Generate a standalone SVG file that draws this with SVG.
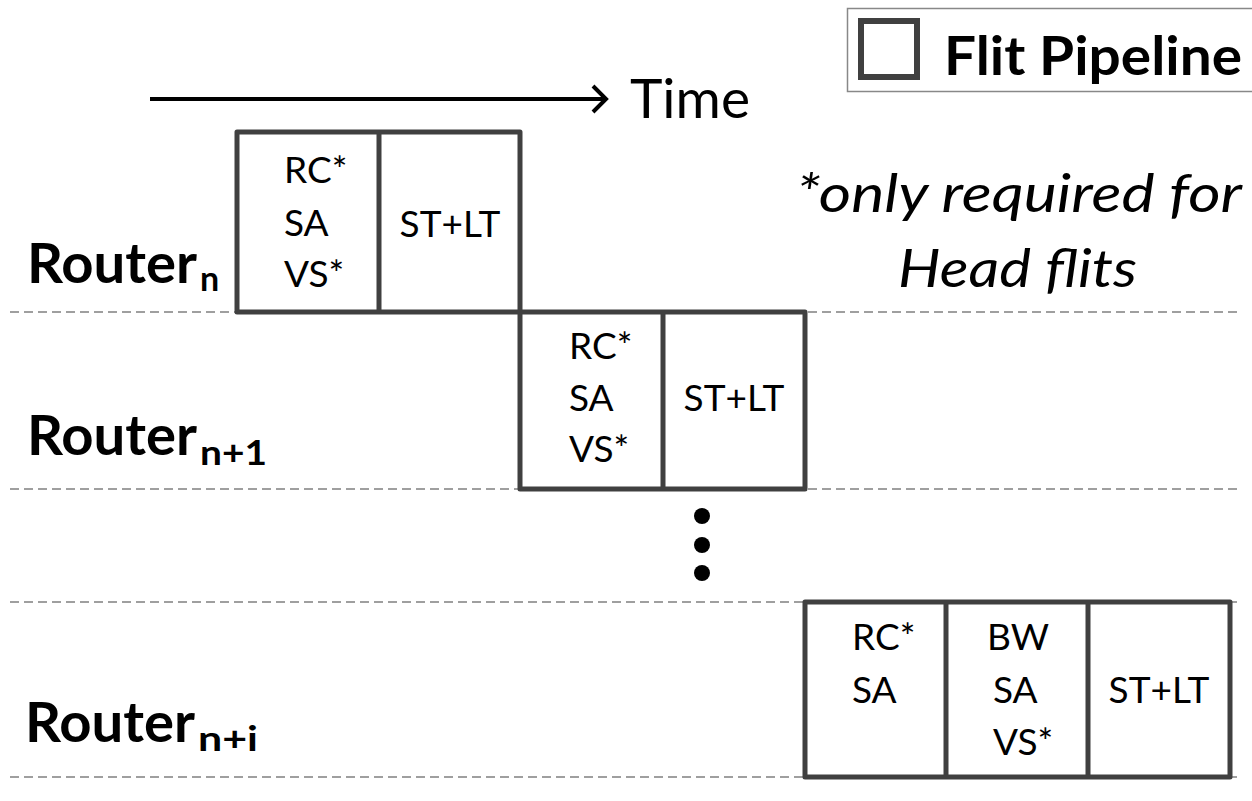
<svg xmlns="http://www.w3.org/2000/svg" width="1252" height="801" viewBox="0 0 1252 801">
<style>
.box{fill:#fff;stroke:#404040;stroke-width:5;stroke-linejoin:round}
.div{stroke:#404040;stroke-width:5}
.dash{stroke:#808080;stroke-width:1.5;stroke-dasharray:9 5;fill:none}
.t{font-family:Lato,"Open Sans","Liberation Sans",sans-serif;font-size:37px;fill:#000}
.r{font-family:Lato,"Open Sans","Liberation Sans",sans-serif;font-size:56px;font-weight:bold;fill:#000}
.s{font-family:Lato,"Open Sans","Liberation Sans",sans-serif;font-size:34px;font-weight:bold;fill:#000}
.i{font-family:Lato,"Open Sans","Liberation Sans",sans-serif;font-size:52px;font-style:italic;fill:#000}
</style>
<rect width="1252" height="801" fill="#fff"/>
<g id="legend">
<rect x="847.5" y="8.5" width="410" height="83" fill="#fff" stroke="#888" stroke-width="1.5"/>
<rect x="861" y="21" width="56" height="56" fill="none" stroke="#404040" stroke-width="6"/>
<text x="944" y="75" class="r" style="font-size:54px" textLength="298" lengthAdjust="spacingAndGlyphs">Flit Pipeline</text>
</g>
<g id="time">
<line x1="150" y1="99" x2="606" y2="99" stroke="#000" stroke-width="4"/>
<polyline points="593,86 606,99 593,112" fill="none" stroke="#000" stroke-width="4"/>
<text x="630" y="118" class="t" style="font-size:54px" textLength="120" lengthAdjust="spacingAndGlyphs">Time</text>
</g>
<g id="connectors">
<line x1="10" y1="312" x2="1240" y2="312" class="dash"/>
<line x1="10" y1="489" x2="1240" y2="489" class="dash"/>
<line x1="10" y1="602" x2="1240" y2="602" class="dash"/>
<line x1="10" y1="777" x2="1240" y2="777" class="dash"/>
</g>
<g id="note">
<text x="796" y="212" class="i" textLength="446" lengthAdjust="spacingAndGlyphs">*only required for</text>
<text x="898" y="287" class="i" textLength="239" lengthAdjust="spacingAndGlyphs">Head flits</text>
</g>
<g id="router-n">
<text x="27" y="283" class="r" textLength="170" lengthAdjust="spacingAndGlyphs">Router</text>
<text x="200" y="291" class="s">n</text>
<rect x="237" y="132" width="283" height="180" class="box"/>
<line x1="379" y1="132" x2="379" y2="312" class="div"/>
<text x="284" y="183" class="t">RC*</text>
<text x="284" y="236" class="t">SA</text>
<text x="284" y="287" class="t">VS*</text>
<text x="450" y="237" class="t" text-anchor="middle">ST+LT</text>
</g>
<g id="router-n1">
<text x="27" y="455" class="r" textLength="170" lengthAdjust="spacingAndGlyphs">Router</text>
<text x="200" y="465" class="s" textLength="67" lengthAdjust="spacingAndGlyphs">n+1</text>
<rect x="520" y="312" width="285" height="177" class="box"/>
<line x1="663" y1="312" x2="663" y2="489" class="div"/>
<text x="569" y="359" class="t">RC*</text>
<text x="569" y="411" class="t">SA</text>
<text x="569" y="462" class="t">VS*</text>
<text x="734" y="411" class="t" text-anchor="middle">ST+LT</text>
</g>
<g id="dots">
<circle cx="702" cy="516" r="8" fill="#000"/>
<circle cx="702" cy="545" r="8" fill="#000"/>
<circle cx="702" cy="573" r="8" fill="#000"/>
</g>
<g id="router-ni">
<text x="25" y="742" class="r" textLength="170" lengthAdjust="spacingAndGlyphs">Router</text>
<text x="198" y="751" class="s" textLength="60" lengthAdjust="spacingAndGlyphs">n+i</text>
<rect x="805" y="602" width="425" height="175" class="box"/>
<line x1="946" y1="602" x2="946" y2="777" class="div"/>
<line x1="1088" y1="602" x2="1088" y2="777" class="div"/>
<text x="852" y="650" class="t">RC*</text>
<text x="852" y="703" class="t">SA</text>
<text x="987" y="650" class="t">BW</text>
<text x="993" y="703" class="t">SA</text>
<text x="993" y="755" class="t">VS*</text>
<text x="1159" y="703" class="t" text-anchor="middle">ST+LT</text>
</g>
</svg>
